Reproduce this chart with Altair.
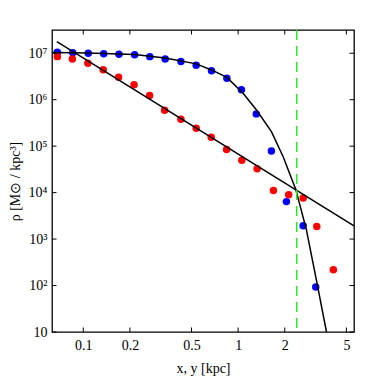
import altair as alt
import pandas as pd

# blue points
blue_x = [0.068, 0.0855, 0.1077, 0.1355, 0.170, 0.2146, 0.269, 0.338, 0.427, 0.536,
          0.673, 0.846, 1.05, 1.31, 1.64, 2.05, 2.63, 3.17]
blue_y = [1.05e7, 1.03e7, 1.0e7, 9.8e6, 9.5e6, 9.3e6, 8.45e6, 7.5e6, 6.6e6, 5.5e6,
          4.2e6, 2.9e6, 1.63e6, 4.95e5, 7.9e4, 6.4e3, 1.93e3, 93]
# red points
red_x = [0.068, 0.085, 0.107, 0.1345, 0.169, 0.2127, 0.268, 0.335, 0.427, 0.536,
         0.670, 0.842, 1.056, 1.326, 1.69, 2.12, 2.63, 3.22, 4.12]
red_y = [8.45e6, 7.5e6, 6.1e6, 4.4e6, 3.05e6, 2.1e6, 1.23e6, 5.9e5, 3.8e5, 2.44e5,
         1.56e5, 8.5e4, 5.0e4, 3.25e4, 1.11e4, 8.97e3, 7.7e3, 1.87e3, 219]
# straight fit
fit1_x = [0.0675, 2.36, 5.6]
fit1_y = [1.77e7, 1.15e4, 1.93e3]
# curved fit
fit2_x = [0.0638, 0.1075, 0.2146, 0.338, 0.536, 0.673, 0.846, 1.077, 1.314, 1.64,
          1.95, 2.36, 2.76, 3.20, 3.72]
fit2_y = [1.04e7, 1.015e7, 9.4e6, 7.9e6, 5.9e6, 4.37e6, 3.02e6, 1.38e6, 6.0e5, 2.06e5,
          5.98e4, 1.15e4, 1.58e3, 133, 10]
vline_x = [2.39]

x_ticks = [0.1, 0.2, 0.5, 1, 2, 5]
y_ticks = [10, 1e2, 1e3, 1e4, 1e5, 1e6, 1e7]

W = 302
H = 302
XDOM = [0.0628, 5.6]
YDOM = [10, 3.162e7]

xs = alt.Scale(type="log", domain=XDOM, nice=False)
ys = alt.Scale(type="log", domain=YDOM, nice=False)

FONT = "Liberation Serif"

blue = pd.DataFrame({"x": blue_x, "y": blue_y})
red = pd.DataFrame({"x": red_x, "y": red_y})
fit1 = pd.DataFrame({"x": fit1_x, "y": fit1_y})
fit2 = pd.DataFrame({"x": fit2_x, "y": fit2_y})
vl = pd.DataFrame({"x": vline_x})
xt = pd.DataFrame({"v": x_ticks})
yt = pd.DataFrame({"v": y_ticks})

sup = "['','','²','³','⁴','⁵','⁶','⁷']"

base_x = alt.X("x:Q", scale=xs,
               axis=alt.Axis(values=x_ticks, format="~g", title="x, y [kpc]",
                             ticks=False, domain=False, grid=False,
                             labelPadding=6, titleY=40, titleBaseline="alphabetic"))
base_y = alt.Y("y:Q", scale=ys,
               axis=alt.Axis(values=y_ticks, title="ρ [M⊙ / kpc³]",
                             labelExpr="datum.value < 50 ? '10' : '10' + " + sup + "[round(log(datum.value)/LN10)]",
                             ticks=False, domain=False, grid=False,
                             labelPadding=5, titleX=-33, titleBaseline="alphabetic"))

blue_pts = alt.Chart(blue).mark_circle(color="#0000ff", opacity=1, size=56).encode(x=base_x, y=base_y)
red_pts = alt.Chart(red).mark_circle(color="#ff0000", opacity=1, size=56).encode(x="x:Q", y="y:Q")
l1 = alt.Chart(fit1).mark_line(color="black", strokeWidth=1.5, clip=True).encode(x="x:Q", y="y:Q")
l2 = alt.Chart(fit2).mark_line(color="black", strokeWidth=1.5, clip=True).encode(x="x:Q", y="y:Q")
green = alt.Chart(vl).mark_rule(color="#22ee22", strokeWidth=1.5, strokeDash=[10, 6]).encode(x="x:Q")

TL = 4.5
xb = alt.Chart(xt).mark_rule(color="black", strokeWidth=1).encode(
    x=alt.X("v:Q", scale=xs), y=alt.value(H), y2=alt.value(H - TL))
xtop = alt.Chart(xt).mark_rule(color="black", strokeWidth=1).encode(
    x=alt.X("v:Q", scale=xs), y=alt.value(0), y2=alt.value(TL))
yl = alt.Chart(yt).mark_rule(color="black", strokeWidth=1).encode(
    y=alt.Y("v:Q", scale=ys), x=alt.value(0), x2=alt.value(TL))
yr = alt.Chart(yt).mark_rule(color="black", strokeWidth=1).encode(
    y=alt.Y("v:Q", scale=ys), x=alt.value(W), x2=alt.value(W - TL))

chart = alt.layer(blue_pts, red_pts, l1, l2, green, xb, xtop, yl, yr).properties(
    width=W, height=H,
    background="white",
    autosize=alt.AutoSizeParams(type="none"),
    padding={"left": 44, "top": 22, "right": 16, "bottom": 44},
).configure_view(stroke="black", strokeWidth=1.3).configure_axis(
    labelFont=FONT, labelFontSize=14, labelColor="black",
    titleFont=FONT, titleFontSize=14, titleFontWeight="normal", titleColor="black",
)

chart.save("out.html", embed_options={"renderer": "svg", "actions": False})
